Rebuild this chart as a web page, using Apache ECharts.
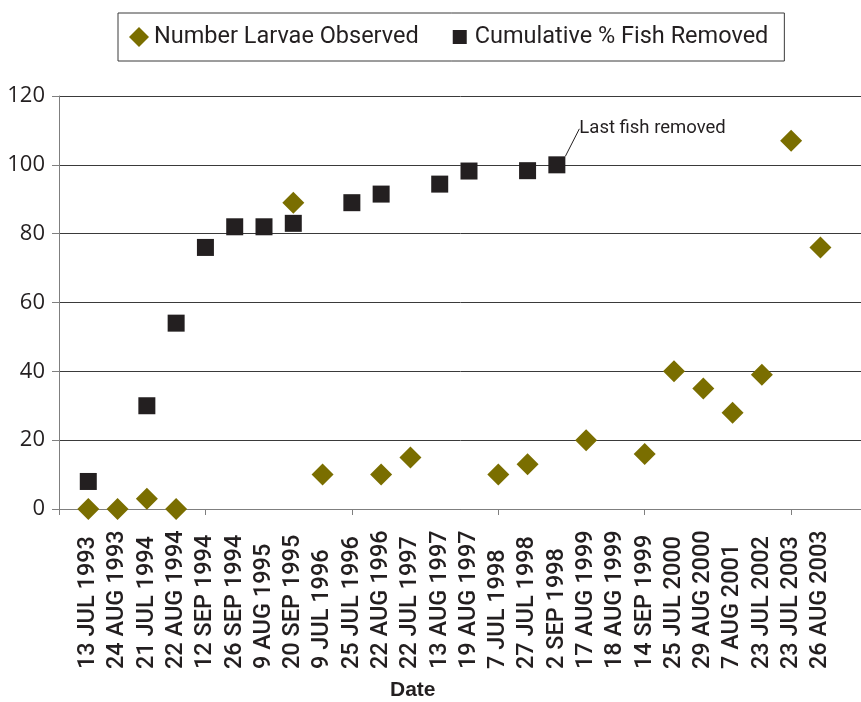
<!DOCTYPE html>
<html>
<head>
<meta charset="utf-8">
<script src="https://cdn.jsdelivr.net/npm/echarts@6/dist/echarts.min.js"></script>
<style>
  html, body { margin: 0; padding: 0; background: #fff; }
  #chart { width: 861px; height: 702px; }
</style>
</head>
<body>
<div id="chart"></div>
<script>
// Survey dates (one category each)
const dates = [
  '13 JUL 1993', '24 AUG 1993', '21 JUL 1994', '22 AUG 1994', '12 SEP 1994',
  '26 SEP 1994', '9 AUG 1995', '20 SEP 1995', '9 JUL 1996', '25 JUL 1996',
  '22 AUG 1996', '22 JUL 1997', '13 AUG 1997', '19 AUG 1997', '7 JUL 1998',
  '27 JUL 1998', '2 SEP 1998', '17 AUG 1999', '18 AUG 1999', '14 SEP 1999',
  '25 JUL 2000', '29 AUG 2000', '7 AUG 2001', '23 JUL 2002', '23 JUL 2003',
  '26 AUG 2003'
];

// Number of larvae counted on each date (null = no count)
const larvae = [
  0, 0, 3, 0, null,
  null, null, 89, 10, null,
  10, 15, null, null, 10,
  13, null, 20, null, 16,
  40, 35, 28, 39, 107,
  76
];

// Cumulative percentage of fish removed (null = no removal that date)
const fishRemoved = [
  8, null, 30, 54, 76,
  82, 82, 83, null, 89,
  91.5, null, 94.4, 98.2, null,
  98.3, 100, null, null, null,
  null, null, null, null, null,
  null
];

const yTicks = [0, 20, 40, 60, 80, 100, 120];
const lastRemovalDate = '2 SEP 1998';

// Leading blank slot gives the axis origin one category of room;
// trailing blanks run the plot out past the right edge.
const categories = [''].concat(dates, ['', '']);
const pad = arr => [null].concat(arr, [null, null]).map(v => v === null ? '-' : v);

const textColor = '#231f20';

const larvaeData = pad(larvae);
const fishData = pad(fishRemoved).map((v, i) => {
  if (categories[i] === lastRemovalDate) {
    return {
      value: v,
      label: {
        show: true,
        formatter: 'Last fish removed',
        position: 'right',
        distance: 5,
        fontFamily: 'Roboto, sans-serif',
        fontSize: 18.5,
        color: textColor
      },
      labelLine: { show: true, lineStyle: { color: textColor, width: 1 } }
    };
  }
  return v;
});

const chart = echarts.init(document.getElementById('chart'), null, { renderer: 'canvas' });

chart.setOption({
  animation: false,
  backgroundColor: '#ffffff',
  grid: {
    left: 59, top: 96, bottom: 193, right: -18,
    containLabel: false,
    outerBoundsMode: 'none'
  },
  legend: {
    left: 118,
    top: 13,
    orient: 'horizontal',
    padding: [12, 16, 12, 11],
    itemGap: 31,
    itemWidth: 20,
    itemHeight: 20,
    borderColor: '#3a3a3a',
    borderWidth: 1,
    textStyle: {
      fontFamily: 'Roboto, sans-serif',
      fontSize: 23.5,
      color: textColor
    },
    data: [
      { name: 'Number Larvae Observed', icon: 'diamond' },
      { name: 'Cumulative % Fish Removed', icon: 'path://M0,0 M3,3h14v14h-14z M20,20' }
    ]
  },
  xAxis: {
    type: 'category',
    data: categories,
    boundaryGap: false,
    axisLine: { show: true, lineStyle: { color: '#7f7f7f', width: 1 } },
    axisTick: { show: true, interval: 4, length: 6, lineStyle: { color: '#7f7f7f' } },
    axisLabel: {
      interval: 0,
      rotate: 90,
      align: 'left',
      verticalAlign: 'middle',
      margin: 160,
      fontFamily: 'Roboto, sans-serif',
      fontWeight: 500,
      fontSize: 23.5,
      color: textColor
    },
    splitLine: { show: false }
  },
  yAxis: {
    type: 'value',
    min: yTicks[0],
    max: yTicks[yTicks.length - 1],
    interval: yTicks[1] - yTicks[0],
    axisLine: { show: true, lineStyle: { color: '#7f7f7f', width: 1 } },
    axisTick: { show: true, length: 7, lineStyle: { color: '#7f7f7f' } },
    axisLabel: {
      margin: 14,
      fontFamily: '"Open Sans", sans-serif',
      fontSize: 22,
      color: textColor
    },
    splitLine: { show: true, lineStyle: { color: '#3a3a3a', width: 1 } }
  },
  graphic: [{
    type: 'text',
    left: 390,
    top: 680,
    style: {
      text: 'Date',
      fontFamily: '"Liberation Sans", Arial, sans-serif',
      fontWeight: 'bold',
      fontSize: 21,
      fill: textColor
    }
  }],
  series: [
    {
      name: 'Number Larvae Observed',
      type: 'scatter',
      symbol: 'diamond',
      symbolSize: [22, 22],
      itemStyle: { color: '#7a6e00', opacity: 1 },
      data: larvaeData,
      z: 3
    },
    {
      name: 'Cumulative % Fish Removed',
      type: 'scatter',
      symbol: 'rect',
      symbolSize: 17,
      itemStyle: { color: textColor, opacity: 1 },
      data: fishData,
      labelLayout: function (p) {
        if (categories[p.dataIndex] === lastRemovalDate) {
          return { dx: 9, dy: -36 };
        }
        return {};
      },
      z: 2
    }
  ]
});
</script>
</body>
</html>
